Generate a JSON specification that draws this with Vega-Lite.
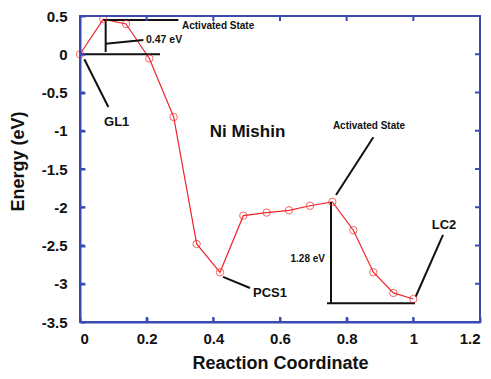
{
  "$schema": "https://vega.github.io/schema/vega-lite/v6.json",
  "width": 400,
  "height": 306,
  "autosize": {"type": "none"},
  "padding": {"left": 80, "top": 16, "right": 11, "bottom": 57},
  "config": {
    "view": {"stroke": "#3b4ab3", "strokeWidth": 2, "strokeOpacity": 1},
    "font": "Liberation Sans",
    "axis": {
      "domain": true,
      "domainColor": "#3b4ab3",
      "domainWidth": 2,
      "domainOpacity": 1,
      "ticks": true,
      "tickColor": "#3b4ab3",
      "tickWidth": 2,
      "tickOpacity": 1,
      "tickSize": -5,
      "grid": false,
      "labelOverlap": false,
      "labelFont": "Liberation Sans",
      "labelFontWeight": "bold",
      "labelFontSize": 15,
      "labelColor": "#111111",
      "labelExpr": "'' + datum.value",
      "titleFont": "Liberation Sans",
      "titleFontWeight": "bold",
      "titleFontSize": 18,
      "titleColor": "#111111"
    }
  },
  "datasets": {
    "energy": [
      {"rc": 0.0, "e": 0.0},
      {"rc": 0.07, "e": 0.46},
      {"rc": 0.138, "e": 0.395},
      {"rc": 0.208, "e": -0.055},
      {"rc": 0.281, "e": -0.82},
      {"rc": 0.35, "e": -2.48},
      {"rc": 0.42, "e": -2.85},
      {"rc": 0.49, "e": -2.11},
      {"rc": 0.56, "e": -2.07},
      {"rc": 0.627, "e": -2.04},
      {"rc": 0.69, "e": -1.98},
      {"rc": 0.757, "e": -1.93},
      {"rc": 0.82, "e": -2.3},
      {"rc": 0.88, "e": -2.85},
      {"rc": 0.94, "e": -3.12},
      {"rc": 1.0, "e": -3.2}
    ],
    "segments": [
      {"x1": 0.07, "y1": 0.448, "x2": 0.295, "y2": 0.448},
      {"x1": 0.077, "y1": 0.448, "x2": 0.077, "y2": 0.03},
      {"x1": 0.077, "y1": 0.138, "x2": 0.19, "y2": 0.186},
      {"x1": 0.0, "y1": 0.0, "x2": 0.24, "y2": 0.0},
      {"x1": 0.013, "y1": -0.066, "x2": 0.085, "y2": -0.69},
      {"x1": 0.429, "y1": -2.91, "x2": 0.51, "y2": -3.056},
      {"x1": 0.768, "y1": -1.84, "x2": 0.88, "y2": -1.086},
      {"x1": 0.753, "y1": -1.93, "x2": 0.753, "y2": -3.256},
      {"x1": 0.741, "y1": -3.256, "x2": 1.005, "y2": -3.256},
      {"x1": 1.007, "y1": -3.17, "x2": 1.089, "y2": -2.36}
    ],
    "box": [
      {"bx": 0, "by": -3.5, "bx2": 1.2, "by2": -3.5},
      {"bx": 0, "by": 0.5, "bx2": 1.2, "by2": 0.5},
      {"bx": 0, "by": -3.5, "bx2": 0, "by2": 0.5},
      {"bx": 1.2, "by": -3.5, "bx2": 1.2, "by2": 0.5},
      {"bx": 0.2, "by": -3.5, "bx2": 0.2, "by2": -3.435},
      {"bx": 0.4, "by": -3.5, "bx2": 0.4, "by2": -3.435},
      {"bx": 0.6, "by": -3.5, "bx2": 0.6, "by2": -3.435},
      {"bx": 0.8, "by": -3.5, "bx2": 0.8, "by2": -3.435},
      {"bx": 1.0, "by": -3.5, "bx2": 1.0, "by2": -3.435},
      {"bx": 0.2, "by": 0.5, "bx2": 0.2, "by2": 0.435},
      {"bx": 0.4, "by": 0.5, "bx2": 0.4, "by2": 0.435},
      {"bx": 0.6, "by": 0.5, "bx2": 0.6, "by2": 0.435},
      {"bx": 0.8, "by": 0.5, "bx2": 0.8, "by2": 0.435},
      {"bx": 1.0, "by": 0.5, "bx2": 1.0, "by2": 0.435},
      {"bx": 0, "by": -3.0, "bx2": 0.015, "by2": -3.0},
      {"bx": 0, "by": -2.5, "bx2": 0.015, "by2": -2.5},
      {"bx": 0, "by": -2.0, "bx2": 0.015, "by2": -2.0},
      {"bx": 0, "by": -1.5, "bx2": 0.015, "by2": -1.5},
      {"bx": 0, "by": -1.0, "bx2": 0.015, "by2": -1.0},
      {"bx": 0, "by": -0.5, "bx2": 0.015, "by2": -0.5},
      {"bx": 0, "by": 0.0, "bx2": 0.015, "by2": 0.0},
      {"bx": 1.2, "by": -3.0, "bx2": 1.185, "by2": -3.0},
      {"bx": 1.2, "by": -2.5, "bx2": 1.185, "by2": -2.5},
      {"bx": 1.2, "by": -2.0, "bx2": 1.185, "by2": -2.0},
      {"bx": 1.2, "by": -1.5, "bx2": 1.185, "by2": -1.5},
      {"bx": 1.2, "by": -1.0, "bx2": 1.185, "by2": -1.0},
      {"bx": 1.2, "by": -0.5, "bx2": 1.185, "by2": -0.5},
      {"bx": 1.2, "by": 0.0, "bx2": 1.185, "by2": 0.0}
    ],
    "labels": [
      {"x": 0.306, "y": 0.373, "t": "Activated State", "s": 10, "a": "left"},
      {"x": 0.198, "y": 0.186, "t": "0.47 eV", "s": 10.5, "a": "left"},
      {"x": 0.11, "y": -0.88, "t": "GL1", "s": 13, "a": "center"},
      {"x": 0.5025, "y": -1.01, "t": "Ni Mishin", "s": 17, "a": "center"},
      {"x": 0.867, "y": -0.934, "t": "Activated State", "s": 10, "a": "center"},
      {"x": 0.519, "y": -3.12, "t": "PCS1", "s": 13, "a": "left"},
      {"x": 0.735, "y": -2.68, "t": "1.28 eV", "s": 10, "a": "right"},
      {"x": 1.092, "y": -2.23, "t": "LC2", "s": 13, "a": "center"}
    ]
  },
  "encoding": {
    "x": {"type": "quantitative", "scale": {"domain": [0, 1.2], "nice": false},
      "axis": {"orient": "bottom", "title": "Reaction Coordinate", "values": [0, 0.2, 0.4, 0.6, 0.8, 1, 1.2], "labelPadding": 14, "titleY": 41, "titleBaseline": "middle"}},
    "y": {"type": "quantitative", "scale": {"domain": [-3.5, 0.5], "nice": false},
      "axis": {"orient": "left", "title": "Energy (eV)", "values": [-3.5, -3, -2.5, -2, -1.5, -1, -0.5, 0, 0.5], "labelPadding": 18, "titleX": -62, "titleY": 145, "titleBaseline": "middle", "titleAngle": -90}}
  },
  "layer": [
    {
      "data": {"name": "energy"},
      "mark": {"type": "line", "color": "#f0252a", "strokeWidth": 1.2},
      "encoding": {"x": {"field": "rc"}, "y": {"field": "e"}}
    },
    {
      "data": {"name": "segments"},
      "mark": {"type": "rule", "color": "#111111", "strokeWidth": 2},
      "encoding": {"x": {"field": "x1"}, "y": {"field": "y1"}, "x2": {"field": "x2"}, "y2": {"field": "y2"}}
    },
    {
      "data": {"name": "energy"},
      "mark": {"type": "point", "shape": "circle", "filled": false, "color": "#f0252a", "strokeWidth": 1, "size": 55},
      "encoding": {"x": {"field": "rc"}, "y": {"field": "e"}}
    },
    {
      "data": {"name": "labels"},
      "transform": [{"filter": "datum.a == 'left'"}],
      "mark": {"type": "text", "fontWeight": "bold", "color": "#111111", "baseline": "middle", "align": "left", "font": "Liberation Sans"},
      "encoding": {"x": {"field": "x"}, "y": {"field": "y"}, "text": {"field": "t"}, "size": {"field": "s", "type": "quantitative", "scale": null}}
    },
    {
      "data": {"name": "labels"},
      "transform": [{"filter": "datum.a == 'center'"}],
      "mark": {"type": "text", "fontWeight": "bold", "color": "#111111", "baseline": "middle", "align": "center", "font": "Liberation Sans"},
      "encoding": {"x": {"field": "x"}, "y": {"field": "y"}, "text": {"field": "t"}, "size": {"field": "s", "type": "quantitative", "scale": null}}
    },
    {
      "data": {"name": "labels"},
      "transform": [{"filter": "datum.a == 'right'"}],
      "mark": {"type": "text", "fontWeight": "bold", "color": "#111111", "baseline": "middle", "align": "right", "font": "Liberation Sans"},
      "encoding": {"x": {"field": "x"}, "y": {"field": "y"}, "text": {"field": "t"}, "size": {"field": "s", "type": "quantitative", "scale": null}}
    },
    {
      "data": {"name": "box"},
      "mark": {"type": "rule", "stroke": "#3b4ab3", "strokeWidth": 2, "opacity": 1},
      "encoding": {"x": {"field": "bx"}, "y": {"field": "by"}, "x2": {"field": "bx2"}, "y2": {"field": "by2"}}
    }
  ]
}
